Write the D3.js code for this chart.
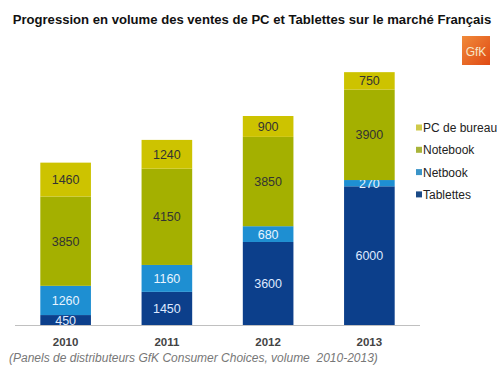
<!DOCTYPE html>
<html><head><meta charset="utf-8">
<script src="https://cdn.jsdelivr.net/npm/d3@7"></script>
<style>body{margin:0;background:#fff}svg{display:block}</style>
</head><body>
<script>
const years = ["2010","2011","2012","2013"];
const seriesNames = ["Tablettes","Netbook","Notebook","PC de bureau"];
const tablettes = [450,1450,3600,6000];
const netbook = [1260,1160,680,270];
const notebook = [3850,4150,3850,3900];
const pcBureau = [1460,1240,900,750];
const colors = ["#0c3f8b","#1e8fd2","#a4b000","#cdc300"];
const legendColors = ["#1a4a86","#3a94c8","#a8b43a","#cfca4a"];
const labelColors = ["#dfe9ff","#e8f4ff","#333","#333"];
const title = "Progression en volume des ventes de PC et Tablettes sur le marché Français";
const footnote = "(Panels de distributeurs GfK Consumer Choices, volume  2010-2013)";

const W=504,H=381;
const svg=d3.select("body").append("svg").attr("width",W).attr("height",H);
const font="Liberation Sans, Arial, sans-serif";

svg.append("text").attr("x",252).attr("y",24).attr("text-anchor","middle")
 .attr("font-family",font).attr("font-weight","bold").attr("font-size",13.1).attr("fill","#111").text(title);

// logo
const g0=svg.append("defs").append("linearGradient").attr("id","lg").attr("x1",0).attr("y1",0).attr("x2",1).attr("y2",1);
g0.append("stop").attr("offset","0%").attr("stop-color","#f08a3a");
g0.append("stop").attr("offset","100%").attr("stop-color","#e04a14");
svg.append("rect").attr("x",462).attr("y",36).attr("width",28).attr("height",29).attr("fill","url(#lg)");
svg.append("text").attr("x",476).attr("y",56).attr("text-anchor","middle").attr("font-family",font)
 .attr("font-size",12).attr("fill","#f6e6c8").text("GfK");

const x=d3.scaleBand().domain(years).range([15,420]).paddingInner(0.5).paddingOuter(0.25);
const y=d3.scaleLinear().domain([0,11000]).range([325.5,70.3]);

const data=years.map((yr,i)=>({year:yr,Tablettes:tablettes[i],Netbook:netbook[i],Notebook:notebook[i],"PC de bureau":pcBureau[i]}));
const stacked=d3.stack().keys(seriesNames)(data);

stacked.forEach((s,si)=>{
  const g=svg.append("g");
  g.selectAll("rect").data(s).join("rect")
   .attr("x",d=>x(d.data.year)).attr("width",x.bandwidth())
   .attr("y",d=>y(d[1])).attr("height",d=>y(d[0])-y(d[1])).attr("fill",colors[si]);
  g.selectAll("text").data(s).join("text")
   .attr("x",d=>x(d.data.year)+x.bandwidth()/2).attr("y",d=>(y(d[0])+y(d[1]))/2+4.5)
   .attr("text-anchor","middle").attr("font-family",font).attr("font-size",12.5)
   .attr("fill",labelColors[si]).text(d=>d.data[seriesNames[si]]);
});

// axis
const axis=svg.append("g").attr("transform","translate(0,325.5)").call(d3.axisBottom(x).tickSize(0).tickPadding(12));
axis.select(".domain").attr("d","M15,0H420").attr("stroke","#c0c0c0");
axis.selectAll("text").attr("font-family",font).attr("font-weight","bold").attr("font-size",11.5).attr("fill","#444");

// legend
const leg=svg.append("g");
const order=["PC de bureau","Notebook","Netbook","Tablettes"];
order.forEach((n,i)=>{
  const ci=seriesNames.indexOf(n);
  leg.append("rect").attr("x",416).attr("y",125+i*22.3-0.5).attr("width",6).attr("height",6).attr("fill",legendColors[ci]);
  leg.append("text").attr("x",423).attr("y",132+i*22.3).attr("font-family",font).attr("font-size",12).attr("fill","#222").text(n);
});

svg.append("text").attr("x",9).attr("y",362).attr("font-family",font).attr("font-style","italic")
 .attr("font-size",12).attr("fill","#777").style("white-space","pre").text(footnote);
</script>
</body></html>
